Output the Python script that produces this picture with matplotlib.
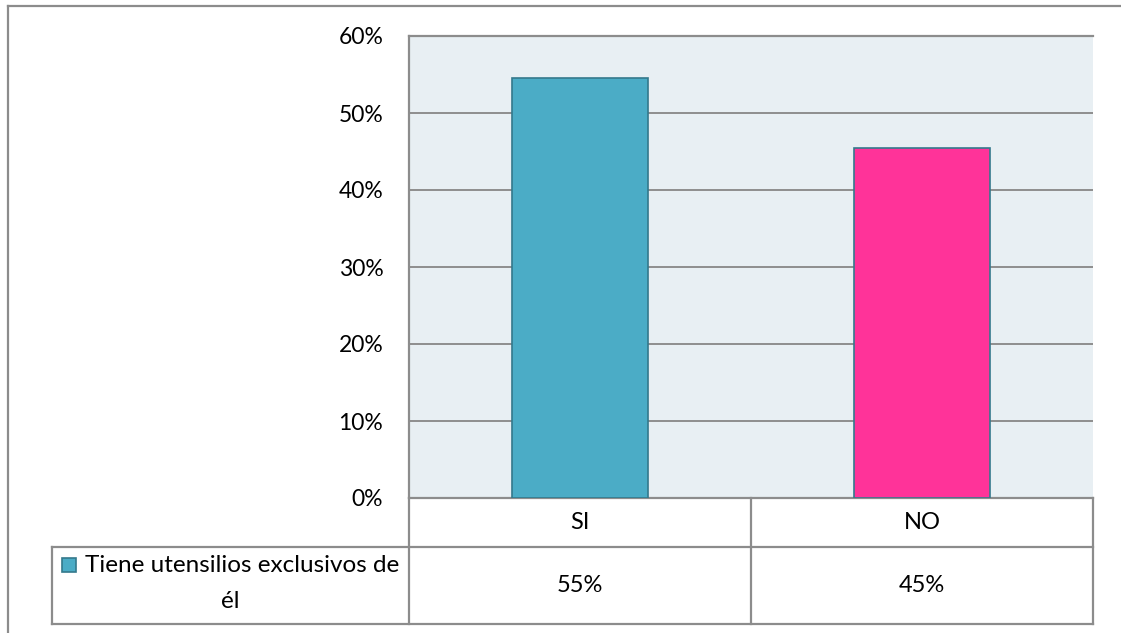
import matplotlib
matplotlib.use("Agg")
import matplotlib.pyplot as plt
from matplotlib.lines import Line2D
from matplotlib.patches import Rectangle

# Data
categories = ["SI", "NO"]
values = [0.5455, 0.4545]
series_name = "Tiene utensilios exclusivos de\nél"
bar_colors = ["#4BACC6", "#FF3399"]
y_ticks = [0.0, 0.1, 0.2, 0.3, 0.4, 0.5, 0.6]

plt.rcParams["font.family"] = ["Lato", "DejaVu Sans"]

W, H = 1121, 633
fig = plt.figure(figsize=(W / 100, H / 100), dpi=100)
fig.patch.set_facecolor("white")

# Plot area geometry (pixels)
px_left, px_right, px_top, px_bottom = 409, 1093, 36, 498
ax = fig.add_axes([px_left / W, 1 - px_bottom / H,
                   (px_right - px_left) / W, (px_bottom - px_top) / H])
ax.set_facecolor("#E8EFF3")

x = list(range(len(categories)))
ax.set_xlim(-0.5, len(categories) - 0.5)
ax.set_ylim(0, 0.6)
ax.set_yticks(y_ticks)
ax.set_yticklabels([f"{t:.0%}" for t in y_ticks], fontsize=16.5)
ax.tick_params(axis="y", length=0, pad=18.5)
ax.set_xticks([])
ax.yaxis.grid(True, color="#8E8E8E", linewidth=1.4)
ax.set_axisbelow(True)

grid_gray = "#8C8C8C"
for side in ["left", "top", "bottom"]:
    ax.spines[side].set_color(grid_gray)
    ax.spines[side].set_linewidth(1.6)
ax.spines["right"].set_visible(False)

ax.bar(x, values, width=0.395, color=bar_colors, edgecolor="#34798C",
       linewidth=1.2, zorder=3)

# Overlay in pixel coordinates for the data table and outer frame
ov = fig.add_axes([0, 0, 1, 1], zorder=5)
ov.set_xlim(0, W)
ov.set_ylim(H, 0)
ov.axis("off")
ov.patch.set_alpha(0)

def hline(y, x0, x1, **kw):
    ov.add_line(Line2D([x0, x1], [y, y], color=grid_gray, linewidth=1.6, **kw))

def vline(xv, y0, y1, **kw):
    ov.add_line(Line2D([xv, xv], [y0, y1], color=grid_gray, linewidth=1.6, **kw))

# Outer chart frame
hline(6, 8, W)
vline(8, 6, H)

row1_bottom, row2_bottom, legend_left = 547, 624, 52
hline(row1_bottom, legend_left, px_right)
hline(row2_bottom, legend_left, px_right)
vline(px_left, px_bottom, row2_bottom)
vline(px_right, px_bottom, row2_bottom)
vline(legend_left, row1_bottom, row2_bottom)

# Category boundaries and centres from the axis data scale
def data_to_px(xd):
    disp = ax.transData.transform((xd, 0))
    return ov.transData.inverted().transform(disp)[0]

for i in range(1, len(categories)):
    vline(data_to_px(i - 0.5), px_bottom, row2_bottom)

for i, (cat, val) in enumerate(zip(categories, values)):
    cx = data_to_px(i)
    ov.text(cx, (px_bottom + row1_bottom) / 2, cat, ha="center", va="center",
            fontsize=17)
    ov.text(cx, (row1_bottom + row2_bottom) / 2, f"{val:.0%}", ha="center",
            va="center", fontsize=17)

# Legend cell: marker + wrapped series name
line1, line2 = series_name.split("\n")
ov.add_patch(Rectangle((62, 558), 14, 14, facecolor=bar_colors[0],
                       edgecolor="#34798C", linewidth=1.2))
ov.text(242, 566, line1, ha="center", va="center", fontsize=17.5)
ov.text(230, 602, line2, ha="center", va="center", fontsize=17.5)

fig.savefig("out.png", dpi=100)
